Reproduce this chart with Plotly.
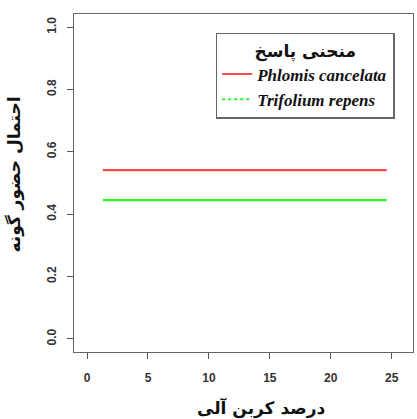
import plotly.graph_objects as go

# Data
carbon_x = [1.3, 24.6]
phlomis_y = [0.541, 0.541]
trifolium_y = [0.445, 0.445]
species = ["Phlomis cancelata", "Trifolium repens"]
x_ticks = [0, 5, 10, 15, 20, 25]
y_ticks = [0.0, 0.2, 0.4, 0.6, 0.8, 1.0]
y_tick_text = ["0.0", "0.2", "0.4", "0.6", "0.8", "1.0"]

red = "#ff4a4a"
green = "#2cf52c"

fig = go.Figure()
fig.add_trace(go.Scatter(x=carbon_x, y=phlomis_y, mode="lines",
                         line=dict(color=red, width=2.2), showlegend=False))
fig.add_trace(go.Scatter(x=carbon_x, y=trifolium_y, mode="lines",
                         line=dict(color=green, width=2.2), showlegend=False))
# legend entries
fig.add_trace(go.Scatter(x=[None], y=[None], mode="lines", name="<b><i>" + species[0] + "</i></b>",
                         line=dict(color=red, width=2)))
fig.add_trace(go.Scatter(x=[None], y=[None], mode="lines", name="<b><i>" + species[1] + "</i></b>",
                         line=dict(color=green, width=2, dash="dot")))

axis_common = dict(showgrid=False, zeroline=False, ticks="outside", ticklen=6,
                   tickcolor="#555", tickwidth=1, automargin=False,
                   tickfont=dict(family="Liberation Sans, Arial", size=12, color="#333", weight="bold"),
                   showline=True, linecolor="#666", linewidth=1.2, mirror=True)

fig.update_xaxes(range=[-1.07, 26.75], tickvals=x_ticks, ticklabelstandoff=8, **axis_common)
fig.update_yaxes(range=[-0.042, 1.042], tickvals=y_ticks, ticktext=y_tick_text,
                 tickangle=-90, ticklabelstandoff=6, **axis_common)

fig.add_annotation(text="<b>درصد کربن آلی</b>", xref="paper", yref="paper",
                   x=0.552, y=-0.165, xanchor="center", yanchor="middle", showarrow=False,
                   font=dict(family="DejaVu Sans", size=17, color="#111"))
fig.add_annotation(text="<b>احتمال حضور گونه</b>", xref="paper", yref="paper",
                   x=-0.175, y=0.524, xanchor="center", yanchor="middle", showarrow=False,
                   textangle=-90, font=dict(family="DejaVu Sans", size=17, color="#111"))

fig.update_layout(
    width=417, height=419,
    margin=dict(l=74, r=4, t=14, b=67, autoexpand=False),
    paper_bgcolor="white", plot_bgcolor="white",
    legend=dict(x=0.418, y=0.944, xanchor="left", yanchor="top",
                bgcolor="white", bordercolor="#666", borderwidth=1.5,
                title=dict(text="<b>منحنی پاسخ</b>", side="top center",
                           font=dict(family="DejaVu Sans", size=17, color="#111")),
                font=dict(family="Liberation Serif, Times New Roman, serif", size=17, color="#111"),
                itemwidth=30, tracegroupgap=0),
)

fig.write_html("out.html", config={"displayModeBar": False},
               post_script="document.body.style.margin='0px';document.body.style.padding='0px';document.body.style.overflow='hidden';")
